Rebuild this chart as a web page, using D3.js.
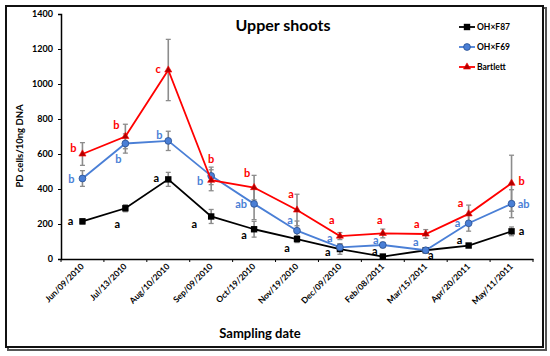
<!DOCTYPE html>
<html>
<head>
<meta charset="utf-8">
<script src="https://cdn.jsdelivr.net/npm/d3@7"></script>
<style>
  body { margin: 0; background: #fff; }
  svg text { font-family: Lato, "Open Sans", sans-serif; font-weight: bold; }
</style>
</head>
<body>
<div class="chart"></div>
<script>
// sampling dates (categories)
var dates = ["Jun/09/2010", "Jul/13/2010", "Aug/10/2010", "Sep/09/2010", "Oct/19/2010", "Nov/19/2010",
             "Dec/09/2010", "Feb/08/2011", "Mar/15/2011", "Apr/20/2011", "May/11/2011"];

// mean PD cells / 10ng DNA
var f87 = [215, 290, 455, 243, 170, 114, 57, 14, 50, 77, 158];
var f69 = [460, 660, 675, 475, 315, 162, 67, 80, 50, 204, 316];
var bartlett = [600, 700, 1080, 450, 408, 280, 131, 146, 143, 258, 433];

// error (+/-)
var f87Err = [15, 20, 40, 40, 45, 20, 30, 10, 10, 10, 25];
var f69Err = [45, 55, 55, 50, 90, 55, 20, 15, 10, 45, 80];
var bartlettErr = [65, 70, 175, 60, 70, 90, 20, 25, 25, 50, 160];

// significance letters
var f87Letters = ["a", "a", "a", "a", "a", "a", "a", "a", "a", "a", "a"];
var f69Letters = ["b", "b", "b", "b", "ab", "a", "a", "a", "a", "a", "ab"];
var bartlettLetters = ["b", "b", "c", "b", "b", "a", "a", "a", "a", "a", "b"];

var yTicks = [0, 200, 400, 600, 800, 1000, 1200, 1400];

// letter placement relative to the point (px)
var f87Off = [[-12, 0], [-8, 16], [-12, -1], [-17, 8], [-10, 6], [-10, 9], [-12, 3], [-8, -5], [5, 5], [-9, -5], [10, 0]];
var f69Off = [[-11, 1], [-7, 16], [-9, -6], [-11, 5], [-13, 0], [-7, -11], [-10, -9], [-7, -5], [-10, -8], [-11, 0], [12, 0]];
var bartlettOff = [[-9, -6], [-9, -11], [-10, -1], [0, -21], [-7, -14], [-6, -16], [-8, -16], [-3, -13], [-9, -10], [-8, -11], [10, -2]];

var svgWidth = 550;
var svgHeight = 356;
var margin = {top: 14, right: 17, bottom: 97, left: 61};
var width = svgWidth - margin.left - margin.right;
var height = svgHeight - margin.top - margin.bottom;

var svg = d3.select(".chart")
  .append("svg")
  .attr("width", svgWidth)
  .attr("height", svgHeight);

// outer frame with a little shadow
svg.append("rect")
  .attr("x", 8).attr("y", 8).attr("width", 538).attr("height", 342)
  .attr("fill", "none").attr("stroke", "#555").attr("stroke-width", 2);
svg.append("rect")
  .attr("x", 6).attr("y", 6).attr("width", 537).attr("height", 341)
  .attr("fill", "#fff").attr("stroke", "#111").attr("stroke-width", 2);

var chart = svg.append("g")
  .attr("transform", "translate(" + margin.left + "," + margin.top + ")");

var x = d3.scaleBand().domain(dates).range([0, width]);
var y = d3.scaleLinear().domain([0, 1400]).range([height, 0]);
var cx = function(d, i) { return x(dates[i]) + x.bandwidth() / 2; };

// axes
var xAxis = chart.append("g")
  .attr("transform", "translate(0," + height + ")")
  .call(d3.axisBottom(x).tickSize(0).tickFormat(""));
xAxis.select(".domain").attr("stroke", "#000").attr("stroke-width", 1.5);
// ticks between categories
xAxis.selectAll(".sep")
  .data(d3.range(dates.length + 1))
  .enter().append("line")
  .attr("x1", function(d) { return d * x.step(); })
  .attr("x2", function(d) { return d * x.step(); })
  .attr("y1", 0).attr("y2", 3)
  .attr("stroke", "#000").attr("stroke-width", 1);

chart.selectAll(".xlab")
  .data(dates)
  .enter().append("text")
  .attr("transform", function(d, i) {
    return "translate(" + (cx(d, i) + 2) + "," + (height + 8) + ") rotate(-45)";
  })
  .attr("text-anchor", "end")
  .attr("font-size", "8.5px")
  .text(function(d) { return d; });

var yAxis = chart.append("g")
  .call(d3.axisLeft(y).tickValues(yTicks).tickFormat(d3.format("d")).tickSize(3).tickPadding(5));
yAxis.select(".domain").attr("stroke", "#000").attr("stroke-width", 1.5);
yAxis.selectAll("text").attr("font-size", "9px").attr("fill", "#000")
  .style("font-family", "Lato, 'Open Sans', sans-serif").style("font-weight", "bold");
yAxis.selectAll("line").attr("stroke", "#000");

// axis titles
svg.append("text")
  .attr("transform", "translate(23,146) rotate(-90)")
  .attr("text-anchor", "middle")
  .attr("font-size", "9.5px")
  .text("PD cells/10ng DNA");

svg.append("text")
  .attr("x", 260).attr("y", 338)
  .attr("text-anchor", "middle")
  .attr("font-size", "13px")
  .text("Sampling date");

svg.append("text")
  .attr("x", 283).attr("y", 31)
  .attr("text-anchor", "middle")
  .attr("font-size", "16px")
  .text("Upper shoots");

var series = [
  {name: "OH\u00d7F87", values: f87, err: f87Err, letters: f87Letters, off: f87Off,
   color: "#000", marker: "square", fill: "#000", stroke: "#000"},
  {name: "OH\u00d7F69", values: f69, err: f69Err, letters: f69Letters, off: f69Off,
   color: "#4a7fd6", marker: "circle", fill: "#4a7fd6", stroke: "#2a4f8f"},
  {name: "Bartlett", values: bartlett, err: bartlettErr, letters: bartlettLetters, off: bartlettOff,
   color: "#ff0000", marker: "triangle", fill: "#b00000", stroke: "#ff0000"}
];

var line = d3.line()
  .x(cx)
  .y(function(d) { return y(d); });

function drawMarker(g, type, fill, stroke) {
  if (type === "square") {
    g.append("rect").attr("x", -3.2).attr("y", -3.2).attr("width", 6.4).attr("height", 6.4)
      .attr("fill", fill);
  } else if (type === "circle") {
    g.append("circle").attr("r", 3.4).attr("fill", fill).attr("stroke", stroke).attr("stroke-width", 0.8);
  } else {
    g.append("path").attr("d", d3.symbol().type(d3.symbolTriangle).size(22)())
      .attr("fill", fill).attr("stroke", stroke).attr("stroke-width", 0.6);
  }
}

// error bars first (behind everything)
series.forEach(function(s) {
  var eb = chart.append("g").attr("stroke", "#8c8c8c").attr("stroke-width", 1.3);
  s.values.forEach(function(v, i) {
    var px = cx(v, i);
    var top = y(v + s.err[i]);
    var bot = y(Math.max(0, v - s.err[i]));
    eb.append("line").attr("x1", px).attr("x2", px).attr("y1", top).attr("y2", bot).attr("stroke-width", 1.6);
    eb.append("line").attr("x1", px - 2.5).attr("x2", px + 2.5).attr("y1", top).attr("y2", top);
    eb.append("line").attr("x1", px - 2.5).attr("x2", px + 2.5).attr("y1", bot).attr("y2", bot);
  });
});

series.forEach(function(s) {
  chart.append("path")
    .datum(s.values)
    .attr("fill", "none")
    .attr("stroke", s.color)
    .attr("stroke-width", 1.8)
    .attr("d", line);

  s.values.forEach(function(v, i) {
    var g = chart.append("g").attr("transform", "translate(" + cx(v, i) + "," + y(v) + ")");
    drawMarker(g, s.marker, s.fill, s.stroke);
  });

  chart.selectAll(null)
    .data(s.values)
    .enter().append("text")
    .attr("x", function(d, i) { return cx(d, i) + s.off[i][0]; })
    .attr("y", function(d, i) { return y(d) + s.off[i][1]; })
    .attr("dy", "0.35em")
    .attr("text-anchor", "middle")
    .attr("font-size", "11px")
    .attr("fill", s.color)
    .text(function(d, i) { return s.letters[i]; });
});

// legend
var legend = svg.append("g").attr("transform", "translate(459,27)");
series.forEach(function(s, i) {
  var row = legend.append("g").attr("transform", "translate(0," + i * 20 + ")");
  row.append("line").attr("x1", 0).attr("x2", 16).attr("stroke", s.color).attr("stroke-width", 1.8);
  var m = row.append("g").attr("transform", "translate(8,0)");
  drawMarker(m, s.marker, s.fill, s.stroke);
  row.append("text").attr("x", 18).attr("dy", "0.35em").attr("font-size", "8.5px").text(s.name);
});
</script>
</body>
</html>
